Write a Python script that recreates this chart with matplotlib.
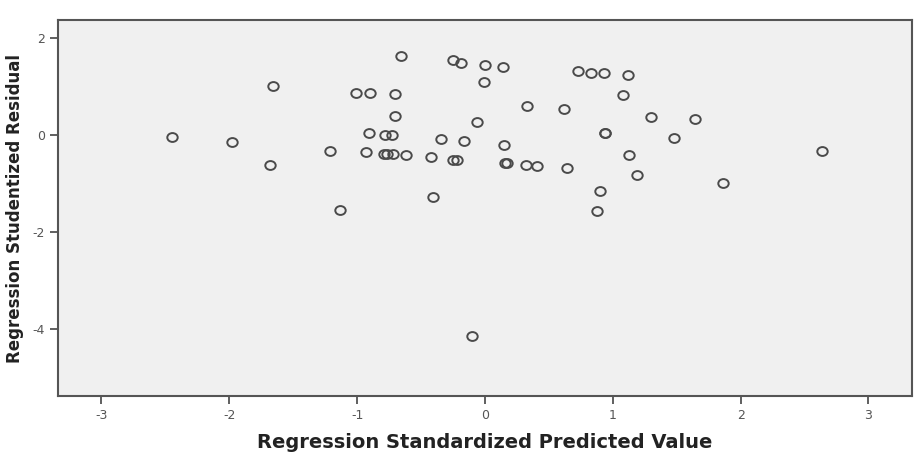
import matplotlib
matplotlib.use("Agg")
import matplotlib.pyplot as plt
from matplotlib.path import Path
from matplotlib.transforms import Affine2D

plt.rcParams["axes.unicode_minus"] = False

# standardized predicted value vs studentized residual
pred = [-2.45, -1.98, -1.66, -1.68, -1.21, -1.13, -1.01, -0.90, -0.91, -0.93,
        -0.78, -0.73, -0.79, -0.77, -0.72, -0.70, -0.70, -0.66, -0.62, -0.42,
        -0.41, -0.34, -0.25, -0.19, -0.25, -0.22, -0.16, -0.10, -0.06, 0.00,
        -0.01, 0.14, 0.15, 0.16, 0.17, 0.32, 0.33, 0.41, 0.62, 0.64,
        0.73, 0.83, 0.93, 0.94, 0.94, 0.90, 0.88, 1.12, 1.08, 1.13,
        1.19, 1.30, 1.48, 1.64, 1.86, 2.64]
resid = [-0.05, -0.14, 1.02, -0.61, -0.33, -1.55, 0.87, 0.86, 0.04, -0.36,
         0.01, 0.00, -0.40, -0.40, -0.40, 0.84, 0.40, 1.63, -0.42, -0.46,
         -1.27, -0.09, 1.55, 1.49, -0.51, -0.51, -0.12, -4.14, 0.26, 1.45,
         1.09, 1.40, -0.21, -0.58, -0.58, -0.62, 0.60, -0.64, 0.53, -0.69,
         1.31, 1.28, 1.28, 0.05, 0.05, -1.15, -1.57, 1.24, 0.82, -0.41,
         -0.82, 0.38, -0.07, 0.32, -0.98, -0.33]

xticks = [-3, -2, -1, 0, 1, 2, 3]
yticks = [2, 0, -2, -4]

# slightly flattened circle, like the SPSS marker
ring = Affine2D().scale(1.0, 0.85).transform_path(Path.unit_circle())

fig = plt.figure(figsize=(9.22, 4.53), dpi=100)
ax = fig.add_axes([0.0629, 0.1258, 0.9261, 0.83])
ax.set_facecolor("#f0f0f0")

ax.plot(pred, resid, linestyle="none", marker=ring, markersize=7.5,
        markerfacecolor="none", markeredgecolor="#4a4a4a", markeredgewidth=1.4)

ax.set_xlim(-3.34, 3.34)
ax.set_ylim(-5.38, 2.37)
ax.set_xticks(xticks)
ax.set_yticks(yticks)
ax.tick_params(axis="both", direction="out", length=6, width=1.2,
               colors="#444444", labelsize=9, labelcolor="#555555")

for s in ax.spines.values():
    s.set_color("#555555")
    s.set_linewidth(1.5)

ax.set_xlabel("Regression Standardized Predicted Value", fontsize=14,
              fontweight="bold", color="#222222", labelpad=8)
ax.set_ylabel("Regression Studentized Residual", fontsize=12,
              fontweight="bold", color="#222222", labelpad=6)

fig.savefig("out.png", dpi=100)
